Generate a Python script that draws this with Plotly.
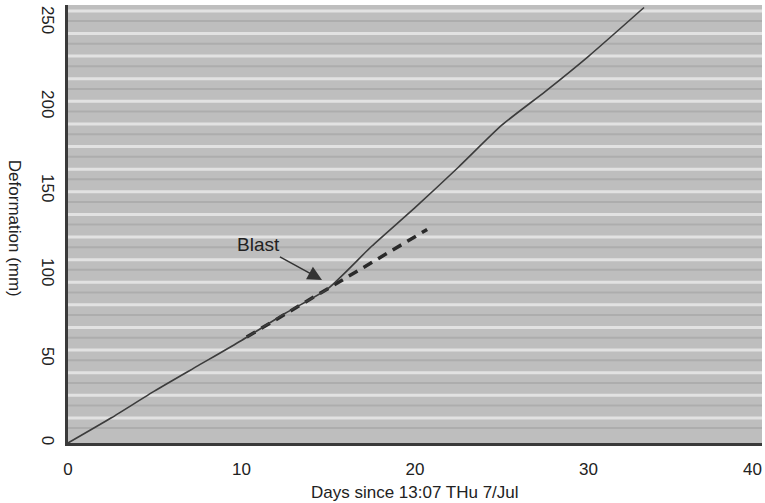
import plotly.graph_objects as go

# Data
days_main = [0, 2.5, 5, 7.5, 10, 12.5, 15, 17.5, 20, 22.5, 25, 27.5, 30, 33.2]
deform_main = [0, 15, 31, 46, 61, 77, 92, 117, 140, 164, 189, 209, 230, 259]

days_trend = [10.3, 20.7]
deform_trend = [63, 127]

blast_day = 14.64
blast_deform = 97

x_ticks = [0, 10, 20, 30]
x_last_tick = 40
y_ticks = [0, 50, 100, 150, 200, 250]

fig = go.Figure()

fig.add_trace(go.Scatter(x=days_trend, y=deform_trend, mode="lines",
                         line=dict(color="#2a2a2a", width=3.5, dash="10px,7px"),
                         showlegend=False, hoverinfo="skip"))
fig.add_trace(go.Scatter(x=days_main, y=deform_main, mode="lines",
                         line=dict(color="#3c3c3c", width=1.6, shape="spline", smoothing=0.6),
                         showlegend=False, hoverinfo="skip"))

# striped background (decoration)
shapes = []
y0 = 14.9
step = 13.45
k = 0
while y0 + k * step < 262:
    yy = y0 + k * step
    shapes.append(dict(type="line", xref="paper", yref="y", x0=0, x1=1, y0=yy, y1=yy,
                       line=dict(color="#e2e2e2", width=3), layer="below"))
    shapes.append(dict(type="line", xref="paper", yref="y", x0=0, x1=1,
                       y0=yy - step * 0.45, y1=yy - step * 0.45,
                       line=dict(color="#adadad", width=2), layer="below"))
    k += 1

fig.update_layout(
    width=765, height=503,
    margin=dict(l=68, r=3, t=5, b=60),
    paper_bgcolor="white",
    plot_bgcolor="#bebebe",
    font=dict(family="Liberation Sans, Arial, sans-serif", size=17, color="#222"),
    shapes=shapes,
    xaxis=dict(range=[0, 40], tickvals=x_ticks, showgrid=False, zeroline=False,
               showline=True, linecolor="#3a3a3a", linewidth=3, ticks="",
               automargin=False, ticklabelstandoff=9, ticklabeloverflow="allow",
               tickfont=dict(size=17)),
    yaxis=dict(range=[0, 260.5], tickvals=y_ticks, showgrid=False, zeroline=False,
               showline=True, linecolor="#3a3a3a", linewidth=3, ticks="",
               automargin=False, tickangle=90, ticklabelstandoff=3,
               ticklabeloverflow="allow", tickfont=dict(size=17)),
    annotations=[
        dict(x=blast_day, y=blast_deform, xref="x", yref="y", text="Blast",
             showarrow=True, ax=-64, ay=-35, arrowhead=2, arrowsize=1.9,
             arrowwidth=1.5, arrowcolor="#333", standoff=0,
             font=dict(size=19, color="#222")),
        dict(x=x_last_tick, y=0, xref="x", yref="paper", text=str(x_last_tick),
             showarrow=False, xanchor="right", yanchor="middle", xshift=2, yshift=-26,
             font=dict(size=17, color="#222")),
        dict(x=-0.077, y=0.49, xref="paper", yref="paper", text="Deformation (mm)",
             showarrow=False, textangle=90, xanchor="center", yanchor="middle",
             font=dict(size=17, color="#222")),
        dict(x=0.5, y=-0.112, xref="paper", yref="paper", text="Days since 13:07 THu 7/Jul",
             showarrow=False, xanchor="center", yanchor="middle",
             font=dict(size=17, color="#222")),
    ],
)

fig.write_html("out.html", config={"displayModeBar": False},
               post_script="document.body.style.margin='0';document.body.style.overflow='hidden';")
